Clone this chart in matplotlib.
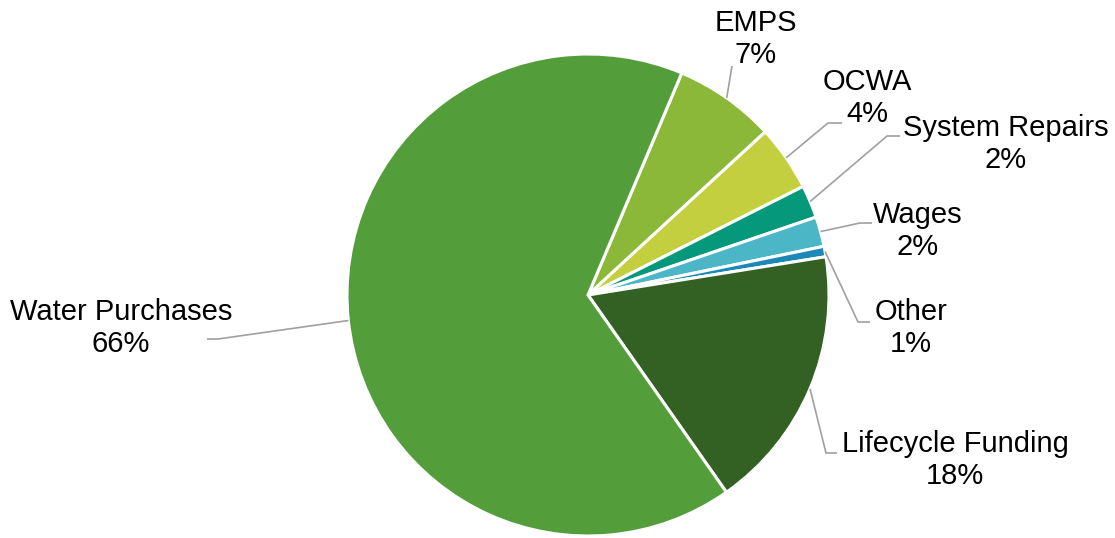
import numpy as np
import matplotlib
matplotlib.use("Agg")
from matplotlib import pyplot as plt


# DATA (clockwise, starting from the EMPS slice)
categories = ["EMPS", "OCWA", "System Repairs", "Wages", "Other",
              "Lifecycle Funding", "Water Purchases"]
shares = [6.8, 4.4, 2.2, 2.0, 0.7, 17.8, 66.1]
pct_labels = ["7%", "4%", "2%", "2%", "1%", "18%", "66%"]

colors = ["#8BB838", "#C3CF3E", "#06987A", "#4BB6C5", "#1B88B8",
          "#336023", "#539E3A"]

# LAYOUT (pixel coords, y measured from the top of the image)
W, H = 1115, 538
cx, cy, R = 588, 295, 241
start_deg = 22.9  # clockwise from 12 o'clock

text_pos = [(756, 39), (867, 98), (1006, 144), (918, 231),
            (911, 328), (955, 460), (121, 328)]
knee_pos = [(732, 66), (828, 123), (887, 136), (860, 223),
            (858, 322), (826, 453), (218, 339)]
end_pos = [(732, 66), (842, 123), (900, 136), (872, 223),
           (870, 322), (837, 453), (207, 339)]

line_color = "#A0A0A0"
font_size = 21

plt.rcParams["font.family"] = ["Liberation Sans", "DejaVu Sans"]

fig = plt.figure(figsize=(W / 100, H / 100), dpi=100)
ax = fig.add_axes([0, 0, 1, 1])

wedges, _ = ax.pie(shares, colors=colors, center=(cx, H - cy), radius=R,
                   startangle=90 - start_deg, counterclock=False,
                   wedgeprops=dict(edgecolor="white", linewidth=2.2))

ax.set_xlim(0, W)
ax.set_ylim(0, H)
ax.set_aspect("equal")
ax.axis("off")

# leader lines + labels
for w, name, pct, tp, kp, ep in zip(wedges, categories, pct_labels,
                                     text_pos, knee_pos, end_pos):
    mid = np.deg2rad((w.theta1 + w.theta2) / 2)
    sx = cx + R * np.cos(mid)
    sy = (H - cy) + R * np.sin(mid)
    ax.plot([sx, kp[0], ep[0]], [sy, H - kp[1], H - ep[1]],
            color=line_color, linewidth=1.2, solid_capstyle="butt")
    ax.text(tp[0], H - tp[1], name + "\n" + pct, ha="center", va="center",
            multialignment="center", fontsize=font_size, linespacing=1.17,
            color="black")

fig.savefig("out.png", dpi=100)
